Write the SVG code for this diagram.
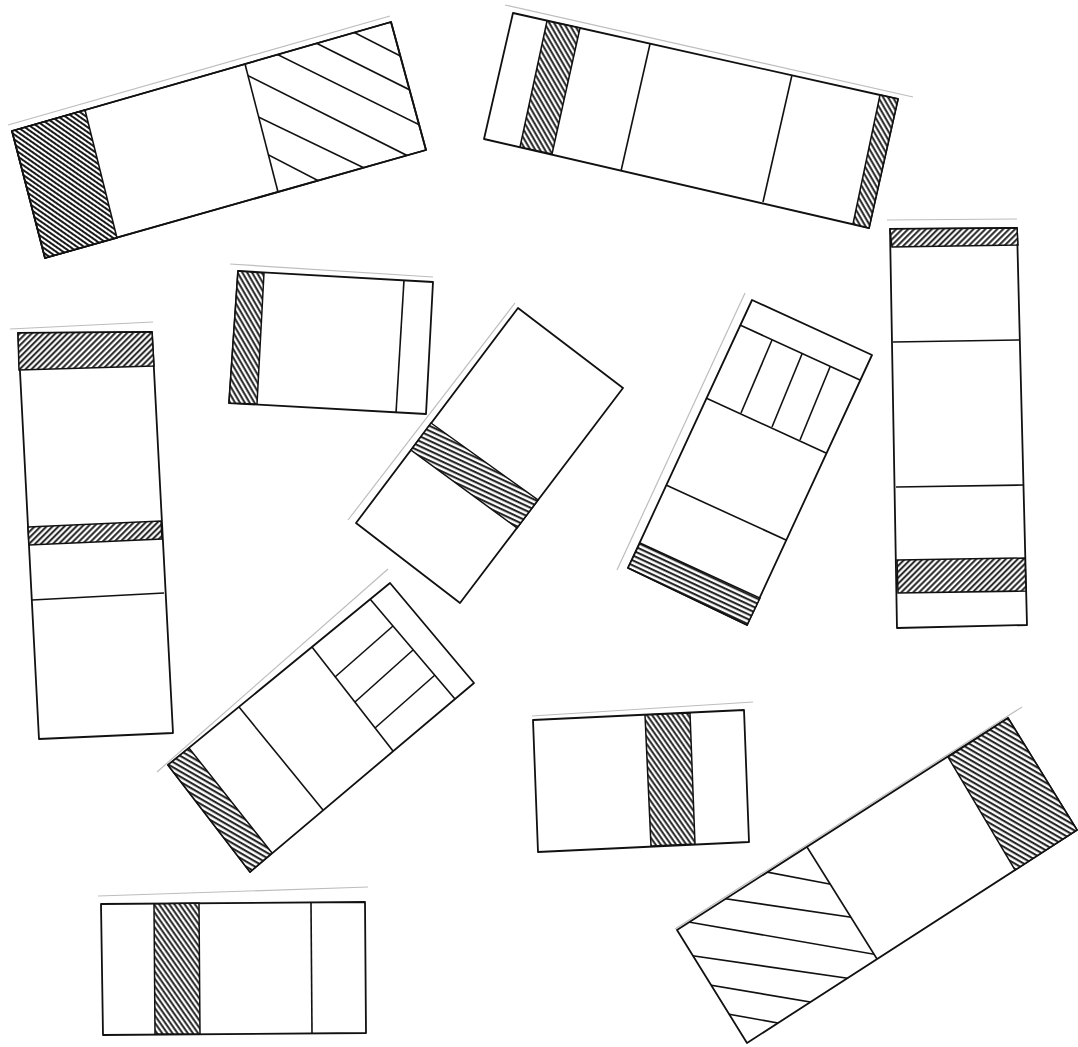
<svg xmlns="http://www.w3.org/2000/svg" width="1078" height="1047" viewBox="0 0 1078 1047">
<style>
.o{fill:#fff;stroke:#111;stroke-width:1.8;stroke-linejoin:round}
.l{stroke:#111;stroke-width:1.6;fill:none}
.f{stroke:#bdbdbd;stroke-width:1.2;fill:none}
.h{stroke:#111;stroke-width:1.5}
</style>
<defs>
<pattern id="p35" width="8" height="4" patternUnits="userSpaceOnUse" patternTransform="rotate(35)"><rect width="8" height="4" fill="#fff"/><line x1="0" y1="2" x2="8" y2="2" stroke="#1a1a1a" stroke-width="2"/></pattern>
<pattern id="p60" width="8" height="4.2" patternUnits="userSpaceOnUse" patternTransform="rotate(60)"><rect width="8" height="4.2" fill="#fff"/><line x1="0" y1="2" x2="8" y2="2" stroke="#1a1a1a" stroke-width="1.9"/></pattern>
<pattern id="p55" width="8" height="4.2" patternUnits="userSpaceOnUse" patternTransform="rotate(55)"><rect width="8" height="4.2" fill="#fff"/><line x1="0" y1="2" x2="8" y2="2" stroke="#1a1a1a" stroke-width="1.9"/></pattern>
<pattern id="m45" width="8" height="4.2" patternUnits="userSpaceOnUse" patternTransform="rotate(-45)"><rect width="8" height="4.2" fill="#fff"/><line x1="0" y1="2" x2="8" y2="2" stroke="#1a1a1a" stroke-width="1.9"/></pattern>
<pattern id="p25" width="8" height="4.5" patternUnits="userSpaceOnUse" patternTransform="rotate(25)"><rect width="8" height="4.5" fill="#fff"/><line x1="0" y1="2" x2="8" y2="2" stroke="#1a1a1a" stroke-width="2"/></pattern>
<pattern id="p30" width="8" height="4.5" patternUnits="userSpaceOnUse" patternTransform="rotate(30)"><rect width="8" height="4.5" fill="#fff"/><line x1="0" y1="2" x2="8" y2="2" stroke="#1a1a1a" stroke-width="2"/></pattern>
<clipPath id="c1"><polygon points="245,64 391,22 426,150 278,192"/></clipPath>
<clipPath id="c10"><polygon points="677,930 807,847 877,959 747,1043"/></clipPath>
</defs>

<g id="paper-edges">
<line class="f" x1="8" y1="125" x2="390" y2="16"/>
<line class="f" x1="505" y1="5" x2="913" y2="97"/>
<line class="f" x1="10" y1="329" x2="153" y2="322"/>
<line class="f" x1="230" y1="264" x2="433" y2="277"/>
<line class="f" x1="348" y1="520" x2="515" y2="303"/>
<line class="f" x1="745" y1="293" x2="617" y2="570"/>
<line class="f" x1="887" y1="220" x2="1017" y2="219"/>
<line class="f" x1="157" y1="772" x2="388" y2="569"/>
<line class="f" x1="532" y1="716" x2="753" y2="702"/>
<line class="f" x1="675" y1="929" x2="1022" y2="707"/>
<line class="f" x1="98" y1="896" x2="368" y2="887"/>
</g>

<g id="card1">
<polygon class="o" points="12,131 391,22 426,150 45,258"/>
<polygon class="h" fill="url(#p35)" points="12,131 85,110 117,238 45,258"/>
<line class="l" x1="245" y1="64" x2="278" y2="192"/>
<g clip-path="url(#c1)" class="l">
<line x1="320" y1="15" x2="420" y2="66"/>
<line x1="280" y1="25" x2="430" y2="100"/>
<line x1="240" y1="36" x2="440" y2="135"/>
<line x1="225" y1="64" x2="430" y2="167"/>
<line x1="225" y1="101" x2="385" y2="178"/>
<line x1="240" y1="140" x2="340" y2="192"/>
</g>
<polygon class="o" points="12,131 391,22 426,150 45,258" style="fill:none"/>
</g>

<g id="card2">
<polygon class="o" points="513,13 898,99 869,228 484,139"/>
<polygon class="h" fill="url(#p60)" points="547,21 580,28 552,154 520,147"/>
<polygon class="h" fill="url(#p60)" points="880,95 898,99 869,228 853,224"/>
<line class="l" x1="650" y1="44" x2="621" y2="171"/>
<line class="l" x1="792" y1="75" x2="763" y2="202"/>
</g>

<g id="card3">
<polygon class="o" points="18,333 152,332 173,733 39,739"/>
<polygon class="h" fill="url(#m45)" points="18,333 152,332 154,366 19,370"/>
<polygon class="h" fill="url(#m45)" points="28,527 161,521 162,539 29,545"/>
<line class="l" x1="32" y1="600" x2="164" y2="593"/>
</g>

<g id="card4">
<polygon class="o" points="238,271 433,282 426,414 229,403"/>
<polygon class="h" fill="url(#p60)" points="238,271 264,273 257,404 229,403"/>
<line class="l" x1="404" y1="280" x2="396" y2="413"/>
</g>

<g id="card5">
<polygon class="o" points="518,308 623,388 460,603 356,523"/>
<polygon class="h" fill="url(#p25)" points="431,423 538,500 517,528 411,450"/>
</g>

<g id="card6">
<polygon class="o" points="752,300 872,355 747,625 628,568"/>
<line class="l" x1="740" y1="325" x2="860" y2="380"/>
<line class="l" x1="706" y1="398" x2="826" y2="453"/>
<line class="l" x1="772" y1="340" x2="741" y2="413"/>
<line class="l" x1="802" y1="354" x2="772" y2="427"/>
<line class="l" x1="830" y1="367" x2="800" y2="440"/>
<line class="l" x1="666" y1="485" x2="786" y2="540"/>
<polygon class="h" fill="url(#p25)" points="640,543 760,598 747,625 628,568"/>
</g>

<g id="card7">
<polygon class="o" points="890,229 1017,228 1027,625 897,628"/>
<polygon class="h" fill="url(#m45)" points="890,229 1017,228 1018,245 892,247"/>
<line class="l" x1="893" y1="342" x2="1020" y2="340"/>
<line class="l" x1="896" y1="487" x2="1023" y2="485"/>
<polygon class="h" fill="url(#m45)" points="897,560 1025,558 1026,591 898,593"/>
</g>

<g id="card8">
<polygon class="o" points="390,583 474,683 250,872 168,765"/>
<line class="l" x1="370" y1="599" x2="455" y2="699"/>
<line class="l" x1="312" y1="647" x2="393" y2="751"/>
<line class="l" x1="335" y1="677" x2="393" y2="626"/>
<line class="l" x1="355" y1="702" x2="413" y2="650"/>
<line class="l" x1="375" y1="728" x2="435" y2="675"/>
<line class="l" x1="239" y1="707" x2="323" y2="810"/>
<polygon class="h" fill="url(#p30)" points="168,765 189,748 272,853 250,872"/>
</g>

<g id="card9">
<polygon class="o" points="533,720 744,710 749,842 538,852"/>
<polygon class="h" fill="url(#p55)" points="645,715 690,713 695,844 651,846"/>
</g>

<g id="card10">
<polygon class="o" points="677,930 1008,718 1077,830 747,1043"/>
<polygon class="h" fill="url(#p30)" points="948,757 1008,718 1077,830 1015,870"/>
<line class="l" x1="807" y1="847" x2="877" y2="959"/>
<g clip-path="url(#c10)" class="l">
<line x1="740" y1="867" x2="840" y2="886"/>
<line x1="700" y1="895" x2="870" y2="920"/>
<line x1="660" y1="917" x2="890" y2="957"/>
<line x1="660" y1="951" x2="880" y2="983"/>
<line x1="680" y1="980" x2="840" y2="1007"/>
<line x1="700" y1="1009" x2="800" y2="1027"/>
</g>
</g>

<g id="card11">
<polygon class="o" points="101,904 365,902 366,1033 103,1035"/>
<polygon class="h" fill="url(#p55)" points="154,904 199,903 200,1034 155,1034"/>
<line class="l" x1="311" y1="903" x2="312" y2="1033"/>
</g>
</svg>
